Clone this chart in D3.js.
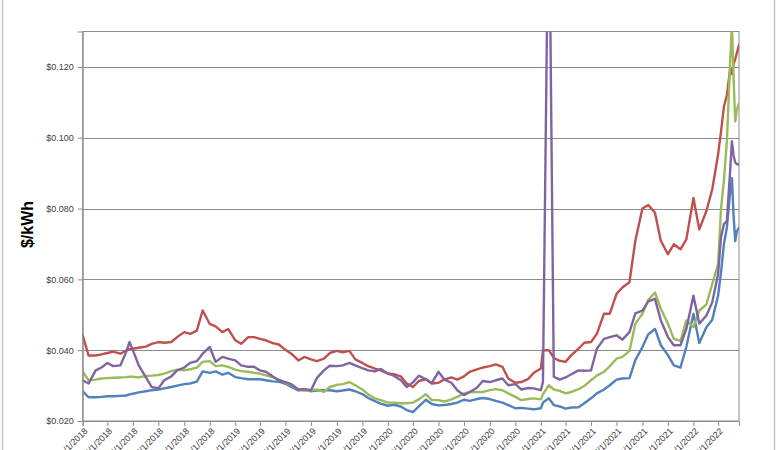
<!DOCTYPE html>
<html>
<head>
<meta charset="utf-8">
<script src="https://cdn.jsdelivr.net/npm/d3@7"></script>
<style>
    body { margin: 0; background: #fff; }
    svg { display: block; }
</style>
</head>
<body>
<div id="main"></div>
<script>
// sample dates (half-monthly, plus a few extra where the lines jump)
const dates = [
    "2018-01-01", "2018-01-15", "2018-02-01", "2018-02-15", "2018-03-01", "2018-03-15", "2018-04-01", "2018-04-15", "2018-04-23",
    "2018-05-01", "2018-05-15", "2018-06-01", "2018-06-15", "2018-07-01", "2018-07-15", "2018-08-01", "2018-08-15",
    "2018-09-01", "2018-09-15", "2018-10-01", "2018-10-15", "2018-11-01", "2018-11-15", "2018-12-01", "2018-12-15",
    "2019-01-01", "2019-01-15", "2019-02-01", "2019-02-15", "2019-03-01", "2019-03-15", "2019-04-01", "2019-04-15",
    "2019-05-01", "2019-05-15", "2019-06-01", "2019-06-15", "2019-07-01", "2019-07-15", "2019-08-01", "2019-08-15",
    "2019-09-01", "2019-09-15", "2019-10-01", "2019-10-15", "2019-11-01", "2019-11-15", "2019-12-01", "2019-12-15",
    "2020-01-01", "2020-01-15", "2020-02-01", "2020-02-15", "2020-03-01", "2020-03-15", "2020-04-01", "2020-04-15",
    "2020-05-01", "2020-05-15", "2020-06-01", "2020-06-15", "2020-07-01", "2020-07-15", "2020-08-01", "2020-08-15",
    "2020-09-01", "2020-09-15", "2020-10-01", "2020-10-15", "2020-11-01", "2020-11-15", "2020-12-01", "2020-12-15",
    "2021-01-01", "2021-01-06", "2021-01-20", "2021-02-01", "2021-02-15", "2021-03-01", "2021-03-15", "2021-04-01",
    "2021-04-15", "2021-05-01", "2021-05-15", "2021-06-01", "2021-06-15", "2021-07-01", "2021-07-15", "2021-08-01",
    "2021-08-15", "2021-09-01", "2021-09-15", "2021-10-01", "2021-10-15", "2021-11-01", "2021-11-15", "2021-12-01", "2021-12-15",
    "2022-01-01", "2022-01-15", "2022-02-01", "2022-02-15", "2022-03-01", "2022-03-08", "2022-03-15", "2022-03-22",
    "2022-03-30", "2022-04-03", "2022-04-07", "2022-04-11", "2022-04-15", "2022-04-20"
];

const blueValues = [
    .0284, .0267, .0267, .0268, .0270, .0270, .0271, .0272, .0275, .0277, .0281, .0284, .0287, .0289, .0292, .0296, .0300,
    .0304, .0306, .0311, .0340, .0336, .0340, .0331, .0336,
    .0324, .0321, .0318, .0318, .0318, .0315, .0312, .0311, .0305, .0296, .0286, .0290, .0284, .0286, .0287, .0287,
    .0284, .0286, .0289, .0284, .0276, .0265, .0256, .0249,
    .0243, .0246, .0241, .0231, .0225, .0241, .0260, .0248, .0244, .0245, .0248, .0252, .0260, .0257, .0262, .0265,
    .0262, .0257, .0252, .0245, .0236, .0237, .0235, .0233,
    .0236, .0252, .0264, .0245, .0241, .0235, .0238, .0239, .0250, .0264, .0278, .0289, .0301, .0317, .0320, .0321,
    .0372, .0409, .0445, .0460, .0414, .0386, .0357, .0351, .0409,
    .0503, .0420, .0465, .0486, .0554, .0620, .0700, .0746, .0850, .0886, .0780, .0708, .0737, .0746
];

const redValues = [
    .0442, .0385, .0385, .0388, .0392, .0396, .0390, .0399, .0403, .0404, .0407, .0410, .0418, .0423, .0421, .0423, .0437,
    .0451, .0446, .0455, .0512, .0474, .0467, .0451, .0460,
    .0428, .0418, .0437, .0437, .0432, .0428, .0420, .0416, .0401, .0390, .0371, .0381, .0374, .0369, .0376, .0392,
    .0398, .0394, .0398, .0374, .0364, .0355, .0348, .0343,
    .0334, .0332, .0326, .0306, .0296, .0313, .0318, .0306, .0308, .0317, .0323, .0317, .0326, .0339, .0346, .0351,
    .0355, .0360, .0353, .0320, .0308, .0310, .0318, .0336,
    .0348, .0400, .0400, .0378, .0370, .0367, .0386, .0404, .0421, .0423, .0446, .0503, .0503, .0559, .0577, .0592,
    .0709, .0800, .0810, .0788, .0709, .0671, .0699, .0685, .0713,
    .0830, .0741, .0793, .0854, .0953, .1017, .1088, .1120, .1195, .1180, .1208, .1222, .1240, .1262
];

const greenValues = [
    .0339, .0315, .0317, .0320, .0321, .0322, .0323, .0324, .0325, .0325, .0323, .0327, .0328, .0330, .0334, .0341, .0345,
    .0343, .0346, .0351, .0367, .0369, .0355, .0357, .0353,
    .0345, .0341, .0339, .0336, .0334, .0329, .0323, .0317, .0308, .0301, .0289, .0285, .0287, .0289, .0282, .0296,
    .0302, .0304, .0310, .0301, .0289, .0275, .0264, .0259,
    .0252, .0252, .0250, .0250, .0252, .0261, .0276, .0259, .0259, .0255, .0261, .0268, .0278, .0282, .0282, .0282,
    .0287, .0290, .0287, .0278, .0268, .0259, .0262, .0264,
    .0261, .0276, .0301, .0289, .0285, .0278, .0282, .0290, .0299, .0315, .0328, .0339, .0355, .0376, .0381, .0398,
    .0475, .0503, .0542, .0563, .0517, .0475, .0432, .0426, .0484,
    .0465, .0512, .0529, .0587, .0643, .0800, .0880, .0990, .1220, .1320, .1170, .1046, .1080, .1096
];

const purpleValues = [
    .0315, .0306, .0343, .0351, .0364, .0355, .0357, .0395, .0423, .0400, .0357, .0324, .0296, .0292, .0315, .0326, .0343,
    .0351, .0364, .0369, .0390, .0409, .0367, .0381, .0376,
    .0371, .0357, .0353, .0353, .0343, .0339, .0326, .0315, .0310, .0304, .0289, .0290, .0287, .0321, .0343, .0356,
    .0355, .0357, .0364, .0357, .0349, .0343, .0340, .0347,
    .0334, .0328, .0315, .0296, .0309, .0328, .0318, .0307, .0339, .0317, .0308, .0287, .0273, .0282, .0294, .0313,
    .0310, .0315, .0320, .0301, .0304, .0289, .0293, .0292,
    .0287, .0310, .1770, .0325, .0317, .0323, .0332, .0343, .0342, .0343, .0404, .0432, .0437, .0442, .0430, .0451,
    .0504, .0512, .0538, .0545, .0484, .0437, .0414, .0414, .0460,
    .0554, .0475, .0498, .0535, .0615, .0720, .0756, .0765, .0910, .0990, .0950, .0930, .0925, .0925
];

const tickDates = [
    "2018-01-01", "2018-03-01", "2018-05-01", "2018-07-01", "2018-09-01", "2018-11-01",
    "2019-01-01", "2019-03-01", "2019-05-01", "2019-07-01", "2019-09-01", "2019-11-01",
    "2020-01-01", "2020-03-01", "2020-05-01", "2020-07-01", "2020-09-01", "2020-11-01",
    "2021-01-01", "2021-03-01", "2021-05-01", "2021-07-01", "2021-09-01", "2021-11-01",
    "2022-01-01", "2022-03-01"
];
const yTicks = [0.02, 0.04, 0.06, 0.08, 0.10, 0.12];
const yTitle = "$/kWh";

const width = 780, height = 450;
const plotLeft = 82.7, plotRight = 739, plotTop = 31.5, plotBottom = 421;

const parse = d3.timeParse("%Y-%m-%d");
const fmtDate = d3.timeFormat("%-m/%-d/%Y");

let svg = d3.select("#main").append("svg")
    .attr("width", width)
    .attr("height", height)
    .style("font-family", "'Liberation Sans', Arial, sans-serif");

svg.append("rect")
    .attr("width", width).attr("height", height)
    .attr("fill", "#fff");

// chart area border (only the sides show, top/bottom are cut off)
svg.append("rect")
    .attr("x", 2.5).attr("y", -6)
    .attr("width", 772).attr("height", height + 12)
    .attr("fill", "none")
    .attr("stroke", "#c4c4c4")
    .attr("stroke-width", 1.5);

const x = d3.scaleTime()
    .domain([parse("2018-01-01"), parse("2022-04-20")])
    .range([plotLeft, plotRight]);

const y = d3.scaleLinear()
    .domain([0.02, 0.13])
    .range([plotBottom, plotTop]);

// gridlines
svg.append("g")
    .selectAll("line")
    .data(yTicks.slice(1))
    .join("line")
    .attr("x1", plotLeft).attr("x2", plotRight)
    .attr("y1", d => Math.round(y(d)) + 0.5)
    .attr("y2", d => Math.round(y(d)) + 0.5)
    .attr("stroke", "#8c8c8c")
    .attr("stroke-width", 1);

// plot area border
svg.append("rect")
    .attr("x", plotLeft).attr("y", plotTop)
    .attr("width", plotRight - plotLeft).attr("height", plotBottom - plotTop)
    .attr("fill", "none")
    .attr("stroke", "#8c8c8c")
    .attr("stroke-width", 1);

svg.append("defs").append("clipPath")
    .attr("id", "plot")
    .append("rect")
    .attr("x", plotLeft).attr("y", plotTop)
    .attr("width", plotRight - plotLeft).attr("height", plotBottom - plotTop);

const series = [
    {name: "blue", values: blueValues, color: "#4f81bd"},
    {name: "red", values: redValues, color: "#c0504d"},
    {name: "green", values: greenValues, color: "#9bbb59"},
    {name: "purple", values: purpleValues, color: "#8064a2"}
];

const parsed = dates.map(parse);

const line = d3.line()
    .x((d, i) => x(parsed[i]))
    .y(d => y(d));

svg.append("g")
    .attr("clip-path", "url(#plot)")
    .attr("fill", "none")
    .attr("stroke-width", 2.4)
    .attr("stroke-linejoin", "round")
    .attr("stroke-linecap", "round")
    .selectAll("path")
    .data(series)
    .join("path")
    .attr("stroke", d => d.color)
    .attr("d", d => line(d.values));

// y axis
const yAxis = svg.append("g")
    .attr("transform", `translate(${plotLeft},0)`)
    .call(d3.axisLeft(y)
        .tickValues(yTicks)
        .tickSize(5)
        .tickPadding(4)
        .tickFormat(d => "$" + d3.format(".3f")(d)));
yAxis.select(".domain").attr("stroke", "#8c8c8c");
yAxis.selectAll(".tick line").attr("stroke", "#8c8c8c");
yAxis.selectAll(".tick text")
    .attr("fill", "#404040")
    .style("font-size", "9px");

// x axis
const xAxis = svg.append("g")
    .attr("transform", `translate(0,${plotBottom})`)
    .call(d3.axisBottom(x)
        .tickValues(tickDates.map(parse))
        .tickSize(5)
        .tickFormat(fmtDate));
xAxis.select(".domain").attr("stroke", "#8c8c8c");
xAxis.selectAll(".tick line").attr("stroke", "#8c8c8c");
xAxis.selectAll(".tick text")
    .attr("fill", "#404040")
    .style("font-size", "9px")
    .attr("text-anchor", "end")
    .attr("x", -4)
    .attr("y", 8)
    .attr("dy", "0.35em")
    .attr("transform", "rotate(-45)");

// axis title
svg.append("text")
    .attr("transform", "translate(33,224.5) rotate(-90)")
    .attr("text-anchor", "middle")
    .attr("fill", "#000")
    .style("font-size", "16px")
    .style("font-weight", "bold")
    .text(yTitle);
</script>
</body>
</html>
